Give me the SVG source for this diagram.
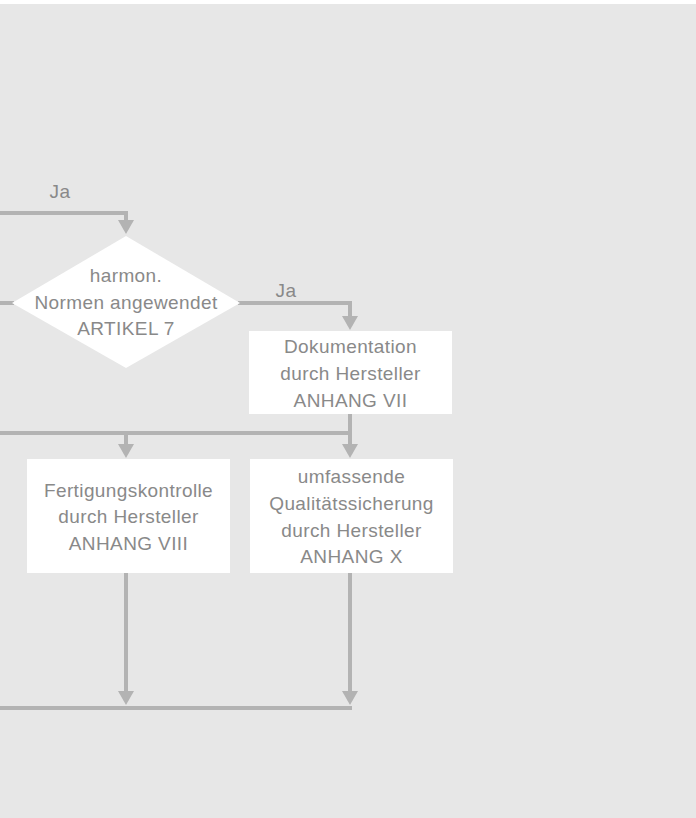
<svg xmlns="http://www.w3.org/2000/svg" width="696" height="818" viewBox="0 0 696 818">
<style>
.bg{fill:#e7e7e7}
.node{fill:#ffffff}
.t{font-family:"Liberation Sans",Arial,sans-serif;font-size:19px;letter-spacing:0.4px;fill:#898989;text-anchor:middle}
.c{fill:none;stroke:#b3b3b3;stroke-width:4}
.ah{fill:#b3b3b3}
</style>
<rect x="0" y="0" width="696" height="818" fill="#ffffff"/>
<rect class="bg" x="0" y="4" width="696" height="814"/>
<g id="connectors">
<polyline class="c" points="0,213 126,213 126,222"/>
<path class="ah" d="M118,220 L134,220 L126,234 Z"/>
<line class="c" x1="0" y1="303" x2="14" y2="303"/>
<polyline class="c" points="238,303 350,303 350,318"/>
<path class="ah" d="M342,316 L358,316 L350,330 Z"/>
<line class="c" x1="0" y1="433" x2="352" y2="433"/>
<line class="c" x1="350" y1="414" x2="350" y2="446"/>
<line class="c" x1="126" y1="433" x2="126" y2="446"/>
<path class="ah" d="M118,444 L134,444 L126,458 Z"/>
<path class="ah" d="M342,444 L358,444 L350,458 Z"/>
<line class="c" x1="126" y1="573" x2="126" y2="693"/>
<line class="c" x1="350" y1="573" x2="350" y2="693"/>
<path class="ah" d="M118,691 L134,691 L126,705 Z"/>
<path class="ah" d="M342,691 L358,691 L350,705 Z"/>
<line class="c" x1="0" y1="708" x2="352" y2="708"/>
<text class="t" x="60" y="198">Ja</text>
<text class="t" x="286" y="297">Ja</text>
</g>
<g id="harmon">
<polygon class="node" points="126,236 240,303 126,368 12,303"/>
<text class="t" x="126" y="282">harmon.</text>
<text class="t" x="126" y="309">Normen angewendet</text>
<text class="t" x="126" y="335">ARTIKEL 7</text>
</g>
<g id="dokumentation">
<rect class="node" x="249" y="331" width="203" height="83"/>
<text class="t" x="350.5" y="353">Dokumentation</text>
<text class="t" x="350.5" y="380">durch Hersteller</text>
<text class="t" x="350.5" y="407">ANHANG VII</text>
</g>
<g id="fertigung">
<rect class="node" x="27" y="459" width="203" height="114"/>
<text class="t" x="128.5" y="497">Fertigungskontrolle</text>
<text class="t" x="128.5" y="523">durch Hersteller</text>
<text class="t" x="128.5" y="550">ANHANG VIII</text>
</g>
<g id="qualitaet">
<rect class="node" x="250" y="459" width="203" height="114"/>
<text class="t" x="351.5" y="483">umfassende</text>
<text class="t" x="351.5" y="510">Qualitätssicherung</text>
<text class="t" x="351.5" y="537">durch Hersteller</text>
<text class="t" x="351.5" y="563">ANHANG X</text>
</g>
</svg>
